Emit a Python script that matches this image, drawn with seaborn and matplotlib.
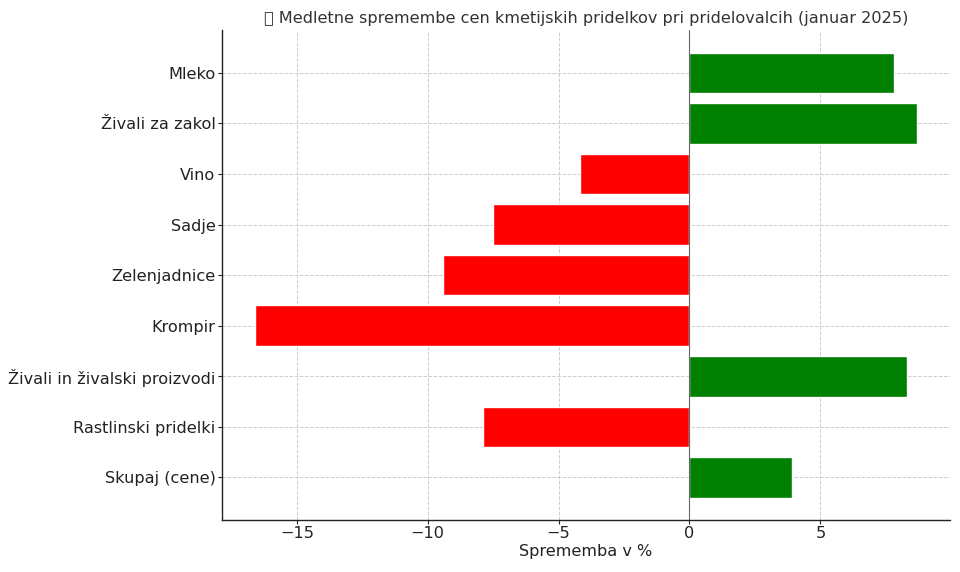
import matplotlib
matplotlib.use("Agg")
import matplotlib.pyplot as plt
import seaborn as sns
import pandas as pd

# Kategorije (od zgoraj navzdol) in medletne spremembe v %
kategorije = [
    "Mleko",
    "Živali za zakol",
    "Vino",
    "Sadje",
    "Zelenjadnice",
    "Krompir",
    "Živali in živalski proizvodi",
    "Rastlinski pridelki",
    "Skupaj (cene)",
]
spremembe = [7.8, 8.7, -4.2, -7.5, -9.4, -16.6, 8.3, -7.9, 3.9]

df = pd.DataFrame({"Kategorija": kategorije, "Sprememba": spremembe})
barve = ["green" if v > 0 else "red" for v in spremembe]

sns.set_style("white")
plt.rcParams["font.family"] = ["DejaVu Sans"]

fig, ax = plt.subplots(figsize=(9.6, 5.72), dpi=100)
sns.barplot(data=df, y="Kategorija", x="Sprememba", hue="Kategorija",
            palette=barve, orient="h", width=0.8, saturation=1,
            legend=False, ax=ax)
# same padding as plain matplotlib barh (5 % margins)
n = len(kategorije)
pad = 0.05 * (n - 1 + 0.8)
ax.set_ylim(n - 1 + 0.4 + pad, -0.4 - pad)
ax.axvline(0, color="#666666", linewidth=0.8)

ax.grid(True, linestyle="--", color="#cccccc", linewidth=0.7)
ax.set_axisbelow(True)
sns.despine(ax=ax)
for s in ["left", "bottom"]:
    ax.spines[s].set_color("#222222")
    ax.spines[s].set_linewidth(1.0)

fs = 11.6
ax.set_title("📉 Medletne spremembe cen kmetijskih pridelkov pri pridelovalcih (januar 2025)",
             fontsize=fs, color="#333333", pad=5)
ax.set_xlabel("Sprememba v %", fontsize=fs, color="#222222", labelpad=2)
ax.set_ylabel("")
ax.tick_params(axis="both", labelsize=fs, colors="#222222",
               bottom=True, left=True, length=3, width=0.8,
               direction="out", pad=1.5)

fig.subplots_adjust(left=0.231, right=0.990, top=0.947, bottom=0.091)
plt.savefig("out.png", dpi=100)
